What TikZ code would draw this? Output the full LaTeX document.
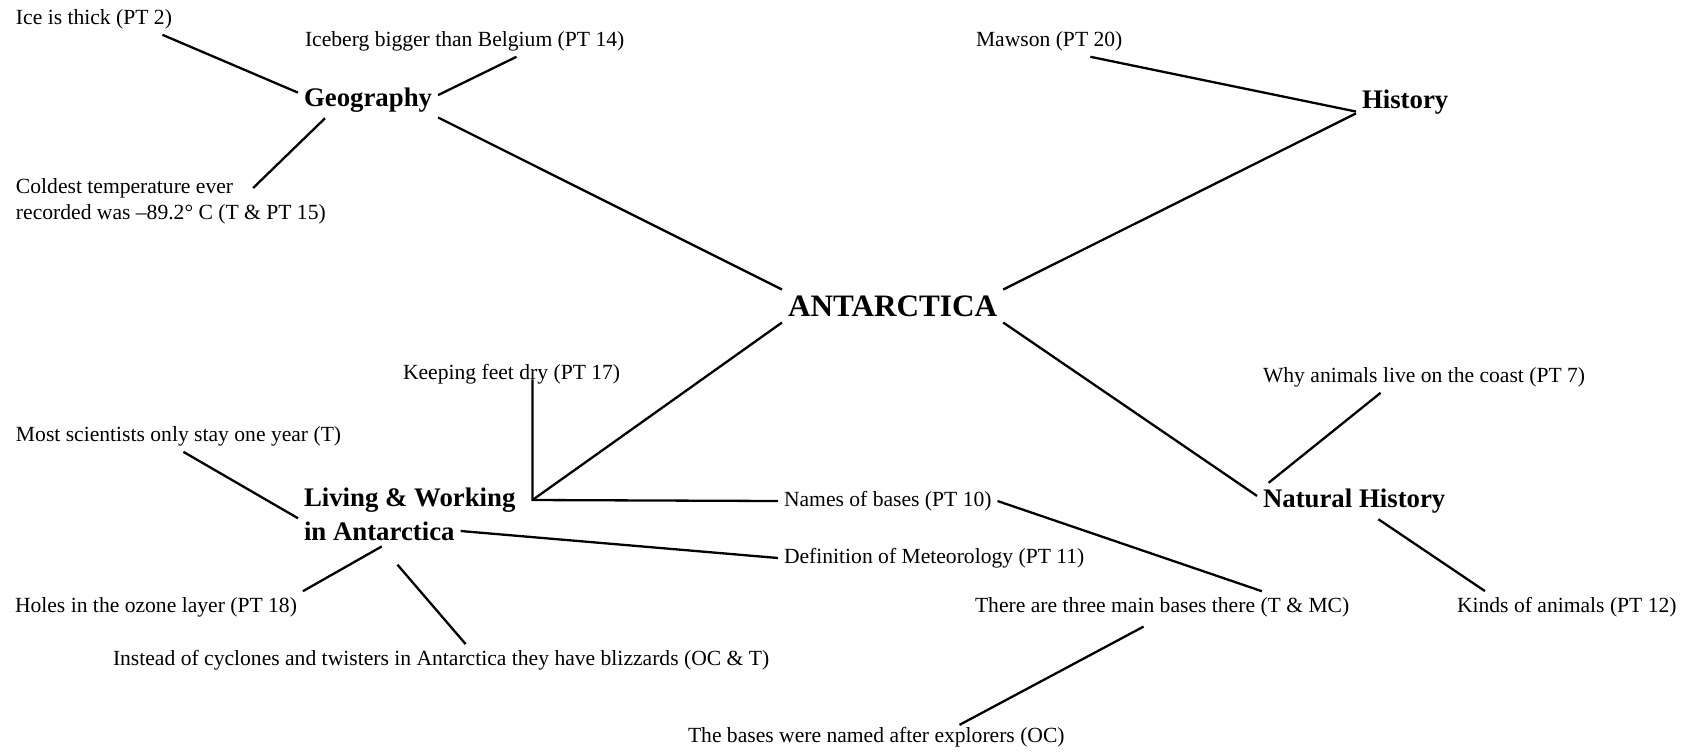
\documentclass[tikz,border=0pt]{standalone}
\usepackage{fontspec}
\setmainfont{Liberation Serif}
\usetikzlibrary{positioning}

\begin{document}
\begin{tikzpicture}[x=0.5pt,y=-0.5pt,
  leaf/.style={anchor=west,inner sep=0pt,outer sep=3pt,font=\fontsize{10.8}{13}\selectfont},
  topic/.style={anchor=west,inner sep=0pt,outer sep=3pt,font=\bfseries\fontsize{13.4}{16}\selectfont},
  core/.style={anchor=west,inner sep=0pt,outer sep=3pt,font=\bfseries\fontsize{15.6}{19}\selectfont},
  link/.style={line width=1.15pt}]
\path[use as bounding box,fill=white] (0,0) rectangle (1685,751);

\node[core] (ant) at (782,306) {ANTARCTICA};

\node[topic] (geo) at (298,100) {Geography};
\node[leaf] (ice) at (10,19) {Ice is thick (PT 2)};
\node[leaf] (iceberg) at (299,41) {Iceberg bigger than Belgium (PT 14)};
\node[leaf] (coldest) at (10,188) {Coldest temperature ever};
\node[leaf,below=13pt of coldest.west,anchor=west] (recorded) {recorded was –89.2° C (T \& PT 15)};

\node[topic] (hist) at (1356,102) {History};
\node[leaf] (mawson) at (970,41) {Mawson (PT 20)};

\node[topic] (living) at (298,500) {Living \& Working};
\node[topic,below=15.5pt of living.west,anchor=west] (living2) {in Antarctica};
\coordinate[right=5.5pt of living.east] (hub);
\node[leaf] (feet) at (397,374) {Keeping feet dry (PT 17)};
\node[leaf] (stay) at (10,436) {Most scientists only stay one year (T)};
\node[leaf] (names) at (778,501) {Names of bases (PT 10)};
\node[leaf] (meteo) at (778,558) {Definition of Meteorology (PT 11)};
\node[leaf] (ozone) at (9,607) {Holes in the ozone layer (PT 18)};
\node[leaf] (blizz) at (107,660) {Instead of cyclones and twisters in Antarctica they have blizzards (OC \& T)};
\node[leaf] (bases) at (969,607) {There are three main bases there (T \& MC)};
\node[leaf] (explorers) at (682,737) {The bases were named after explorers (OC)};

\node[topic] (nat) at (1257,501) {Natural History};
\node[leaf] (coast) at (1257,377) {Why animals live on the coast (PT 7)};
\node[leaf] (kinds) at (1451,607) {Kinds of animals (PT 12)};

\path[draw,link] (ice.-13) -- (geo.174);
\path[draw,link] (geo.4) -- (iceberg.-17);
\path[draw,link] (geo.-157) -- ([xshift=7pt]coldest.east);
\path[draw,link] (geo.-14) -- (ant.north west);

\path[draw,link] (ant.north east) -- (hist.193);
\path[draw,link] (mawson.-21) -- (hist.191);

\path[draw,link] (ant.south west) -- (hub);
\path[draw,link] (feet.base -| hub) -- (hub) -- (names.west);
\path[draw,link] (living2.east) -- (meteo.west);
\path[draw,link] (stay.-73) -- (living.south west);
\path[draw,link] (living2.-81) -- (ozone.north east);
\path[draw,link,shorten <=12pt] (living2.-81) -- (blizz.33);
\path[draw,link] (names.east) -- (bases.9);
\path[draw,link,shorten <=4pt,shorten >=-4pt] (bases.-126) -- (explorers.10);

\path[draw,link] (ant.south east) -- (nat.177);
\path[draw,link] (coast.200) -- (nat.168);
\path[draw,link] (nat.-37) -- (kinds.169);
\end{tikzpicture}
\end{document}
